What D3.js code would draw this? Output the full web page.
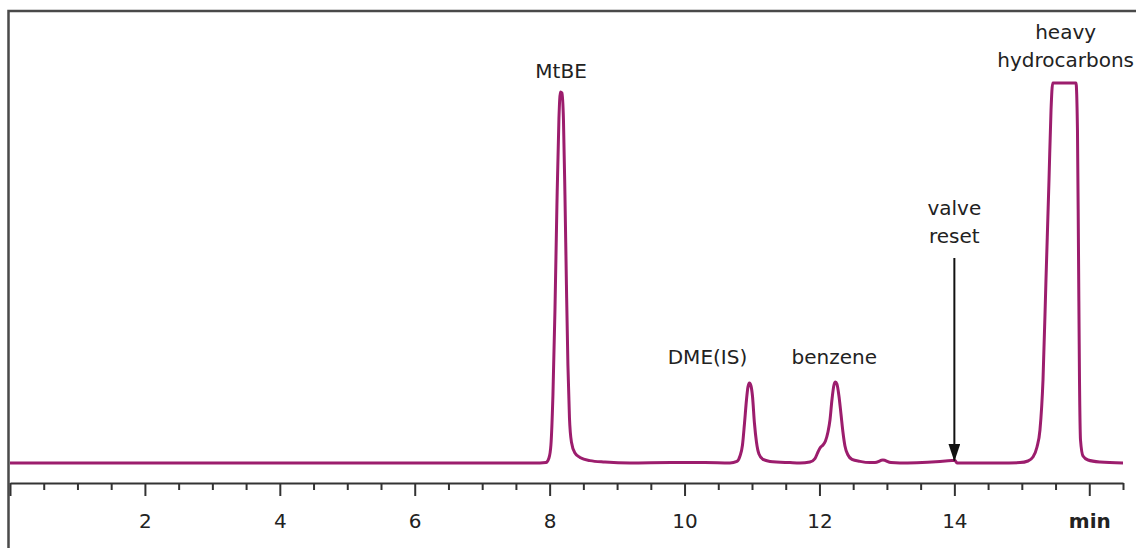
<!DOCTYPE html>
<html>
<head>
<meta charset="utf-8">
<script src="https://cdn.jsdelivr.net/npm/d3@7"></script>
<style>
body{margin:0;background:#fff;}
text{font-family:"DejaVu Sans",Verdana,sans-serif;fill:#222;}
</style>
</head>
<body>
<div id="chart"></div>
<script>

var width = 1136
var height = 548

// retention time (min)
var times = [0, 2, 4, 6, 7.5,
	7.856, 7.945, 7.990, 8.019, 8.049, 8.079, 8.108, 8.138, 8.160, 8.182, 8.205, 8.227, 8.249, 8.271, 8.294, 8.323, 8.375, 8.449, 8.597, 8.820, 9.190,
	9.8, 10.3,
	10.673, 10.777, 10.822, 10.859, 10.888, 10.918, 10.940, 10.962, 10.985, 11.007, 11.036, 11.066, 11.103, 11.163, 11.266, 11.563,
	11.711, 11.859, 11.933, 11.978, 12.015, 12.052, 12.089, 12.126, 12.156, 12.185, 12.215, 12.237, 12.259, 12.289, 12.319, 12.348, 12.378, 12.423, 12.482, 12.600, 12.749,
	12.823, 12.941, 13.060, 13.193,
	13.787, 13.964, 14.009, 14.039, 14.676,
	14.973, 15.091, 15.165, 15.225, 15.269, 15.314, 15.358, 15.403, 15.433, 15.458, 15.625, 15.803, 15.825, 15.840, 15.855, 15.870, 15.907, 15.981, 16.159, 16.500]

// detector signal (arbitrary units)
var signal = [0, 0, 0, 0, 0,
	0, 0.1, 1.25, 4.5, 17, 38.25, 64.5, 86.25, 92.75, 92.5, 85.75, 67, 44.5, 24.5, 11.25, 5.25, 2.5, 1.4, 0.6, 0.25, 0,
	0.1, 0.1,
	0, 0.4, 1.75, 4.5, 9.75, 15.75, 19, 20, 19.25, 16.75, 10, 5.25, 2.25, 0.9, 0.4, 0.1,
	0, 0.25, 1.1, 2.75, 3.9, 4.5, 5.5, 7.75, 10.75, 15.75, 19.5, 20.25, 19.75, 16.75, 12.25, 7.75, 4.25, 2, 0.9, 0.4, 0.1,
	0.1, 0.75, 0.1, 0,
	0.4, 0.6, 0.65, 0, 0,
	0.1, 0.5, 1.5, 4, 8.25, 20.75, 45.75, 70.75, 88.25, 95, 95, 95, 83.25, 53.25, 20.75, 5.75, 1.75, 0.75, 0.25, 0]

var majorTicks = [0, 2, 4, 6, 8, 10, 12, 14, 16]
var tickLabels = ["", "2", "4", "6", "8", "10", "12", "14", "min"]
var minorTicks = [0.5, 1, 1.5, 2.5, 3, 3.5, 4.5, 5, 5.5, 6.5, 7, 7.5, 8.5, 9, 9.5, 10.5, 11, 11.5, 12.5, 13, 13.5, 14.5, 15, 15.5, 16.5]

// peak annotations, anchored in data units
var labelLines = [["MtBE"], ["DME(IS)"], ["benzene"], ["valve", "reset"], ["heavy", "hydrocarbons"]]
var labelTimes = [8.17, 10.34, 12.22, 14.0, 15.65]
var labelSignals = [96.25, 24.75, 24.75, 62, 106]
var arrowTime = 14.0
var arrowFrom = 51.25
var arrowTo = 0.6

var svg = d3.select('#chart').append("svg")
	.attr("width", width)
	.attr("height", height)

var x = d3.scaleLinear().domain([0, 16.5]).range([10, 1123])
var y = d3.scaleLinear().domain([0, 100]).range([463, 63])

// frame
svg.append("path")
	.attr("d", "M8.5," + height + "V11H" + width)
	.attr("fill", "none")
	.attr("stroke", "#4a4a4a")
	.attr("stroke-width", 2.5)

// axis
var gx = svg.append("g").attr("transform", "translate(0,483)")

gx.call(d3.axisBottom(x)
	.tickValues(majorTicks)
	.tickSize(13)
	.tickSizeOuter(0)
	.tickPadding(18)
	.tickFormat(function(d, i) { return tickLabels[i] }))

gx.append("g").call(d3.axisBottom(x)
	.tickValues(minorTicks)
	.tickSize(7)
	.tickFormat(""))
  .select(".domain").remove()

gx.selectAll("path, line").attr("stroke", "#333").attr("stroke-width", 2)
gx.selectAll("text")
	.attr("font-size", 20)
	.attr("fill", "#222")
	.style("font-family", '"DejaVu Sans", Verdana, sans-serif')
gx.selectAll(".tick text").filter(function(d) { return d === 16 })
	.attr("font-weight", "bold")

// trace
var pts = times.map(function(t, i) { return [t, signal[i]] })
var line = d3.line()
	.x(function(d) { return x(d[0]) })
	.y(function(d) { return y(d[1]) })
	.curve(d3.curveMonotoneX)

svg.append("path")
	.datum(pts)
	.attr("d", line)
	.attr("fill", "none")
	.attr("stroke", "#9c1d6d")
	.attr("stroke-width", 3)
	.attr("stroke-linejoin", "round")

// labels
labelLines.forEach(function(lines, i) {
	var t = svg.append("text")
		.attr("x", x(labelTimes[i]))
		.attr("y", y(labelSignals[i]))
		.attr("text-anchor", "middle")
		.attr("font-size", 20)
	lines.forEach(function(s, j) {
		t.append("tspan")
			.attr("x", x(labelTimes[i]))
			.attr("dy", j ? 28 : 0)
			.text(s)
	})
})

// valve reset arrow
svg.append("defs").append("marker")
	.attr("id", "head")
	.attr("viewBox", "0 0 18 12")
	.attr("refX", 17).attr("refY", 6)
	.attr("markerWidth", 9).attr("markerHeight", 6)
	.attr("markerUnits", "strokeWidth")
	.attr("orient", "auto")
  .append("path")
	.attr("d", "M0,0L18,6L0,12z")
	.attr("fill", "#111")

svg.append("line")
	.attr("x1", x(arrowTime)).attr("x2", x(arrowTime))
	.attr("y1", y(arrowFrom)).attr("y2", y(arrowTo))
	.attr("stroke", "#111")
	.attr("stroke-width", 2)
	.attr("marker-end", "url(#head)")

</script>
</body>
</html>
